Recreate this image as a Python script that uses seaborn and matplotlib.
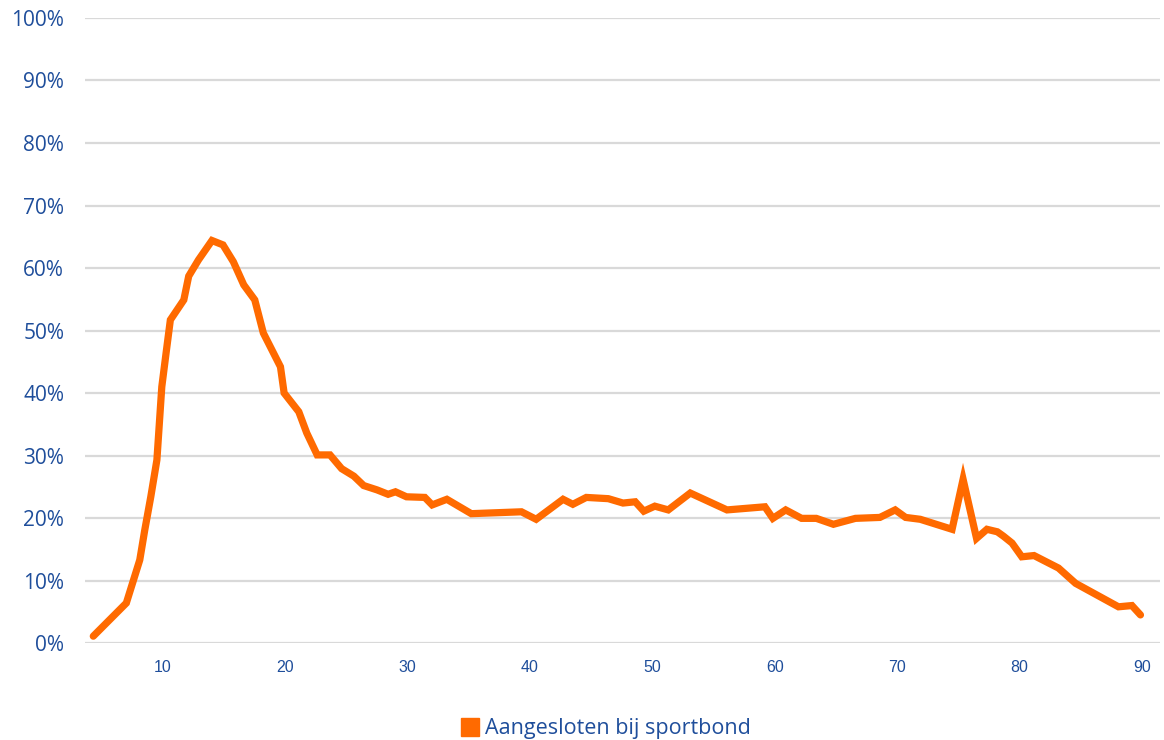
import pandas as pd
import matplotlib.pyplot as plt
from matplotlib.lines import Line2D
import seaborn as sns

# age (x) and share affiliated with a sports federation (%)
ages = [4.3, 7.0, 8.1, 8.5, 9.0, 9.5, 9.9, 10.25, 10.6, 11.7, 12.1, 12.9, 14.0,
        14.9, 15.75, 16.6, 17.5, 18.2, 19.6, 19.9, 21.1, 21.75, 22.6, 23.65,
        24.6, 25.6, 26.4, 27.5, 28.4, 29.0, 29.9, 31.4, 32.0, 33.2, 35.2, 39.3,
        40.5, 42.7, 43.5, 44.6, 46.4, 47.6, 48.6, 49.3, 50.2, 51.3, 53.1, 56.1,
        59.2, 59.85, 60.9, 62.2, 63.4, 64.8, 66.6, 68.6, 69.85, 70.7, 71.9,
        74.5, 75.4, 76.5, 77.35, 78.2, 78.7, 79.4, 80.2, 81.2, 83.2, 84.6,
        88.1, 89.2, 89.9]
share = [1.1, 6.4, 13.3, 18.0, 23.4, 29.3, 41.0, 46.4, 51.7, 54.9, 58.7, 61.3,
         64.4, 63.7, 61.0, 57.3, 54.9, 49.6, 44.2, 40.0, 37.0, 33.6, 30.1, 30.1,
         27.9, 26.7, 25.2, 24.5, 23.8, 24.2, 23.4, 23.3, 22.1, 23.0, 20.7, 21.0,
         19.8, 23.0, 22.2, 23.3, 23.1, 22.4, 22.6, 21.1, 21.9, 21.3, 24.0, 21.3,
         21.8, 19.95, 21.3, 19.95, 19.95, 19.0, 19.95, 20.1, 21.3, 20.1, 19.8,
         18.2, 26.2, 16.75, 18.2, 17.8, 17.1, 16.0, 13.8, 14.0, 12.0, 9.55,
         5.8, 6.0, 4.5]
x_ticks = [10, 20, 30, 40, 50, 60, 70, 80, 90]
y_ticks = [0, 10, 20, 30, 40, 50, 60, 70, 80, 90, 100]
series_name = "Aangesloten bij sportbond"

ORANGE = "#FF6A00"
BLUE = "#1F4E9B"
GRID = "#D9D9D9"

df = pd.DataFrame({"age": ages, "share": share})

sns.set_theme(style="white")
plt.rcParams["font.family"] = ["Open Sans", "DejaVu Sans"]

fig = plt.figure(figsize=(11.64, 7.40), dpi=100)
ax = fig.add_axes([0.073, 0.131, 0.9236, 0.8447])

sns.lineplot(data=df, x="age", y="share", color=ORANGE, linewidth=5.2,
             ax=ax, legend=False, solid_joinstyle="miter")

ax.set_xlim(3.62, 91.5)
ax.set_ylim(0, 100)
ax.set_xticks(x_ticks)
ax.set_yticks(y_ticks)
ax.set_yticklabels([f"{v}%" for v in y_ticks])
ax.yaxis.grid(True, color=GRID, linewidth=1.6)
ax.xaxis.grid(False)
ax.set_axisbelow(True)
for s in ax.spines.values():
    s.set_visible(False)

ax.tick_params(axis="y", length=0, pad=15, labelsize=15, labelcolor=BLUE)
ax.tick_params(axis="x", length=0, pad=12, labelsize=11.5, labelcolor=BLUE)
for lbl in ax.get_xticklabels():
    lbl.set_fontfamily(["Liberation Sans", "DejaVu Sans"])
ax.set_xlabel("")
ax.set_ylabel("")

handle = Line2D([], [], linestyle="none", marker="s", markersize=13,
                markerfacecolor=ORANGE, markeredgecolor=ORANGE)
fig.legend([handle], [series_name], loc="center", bbox_to_anchor=(0.52, 0.015),
           frameon=False, fontsize=15.5, labelcolor=BLUE, handletextpad=0.25,
           handlelength=0.9)

fig.savefig("out.png", dpi=100, facecolor="white")
